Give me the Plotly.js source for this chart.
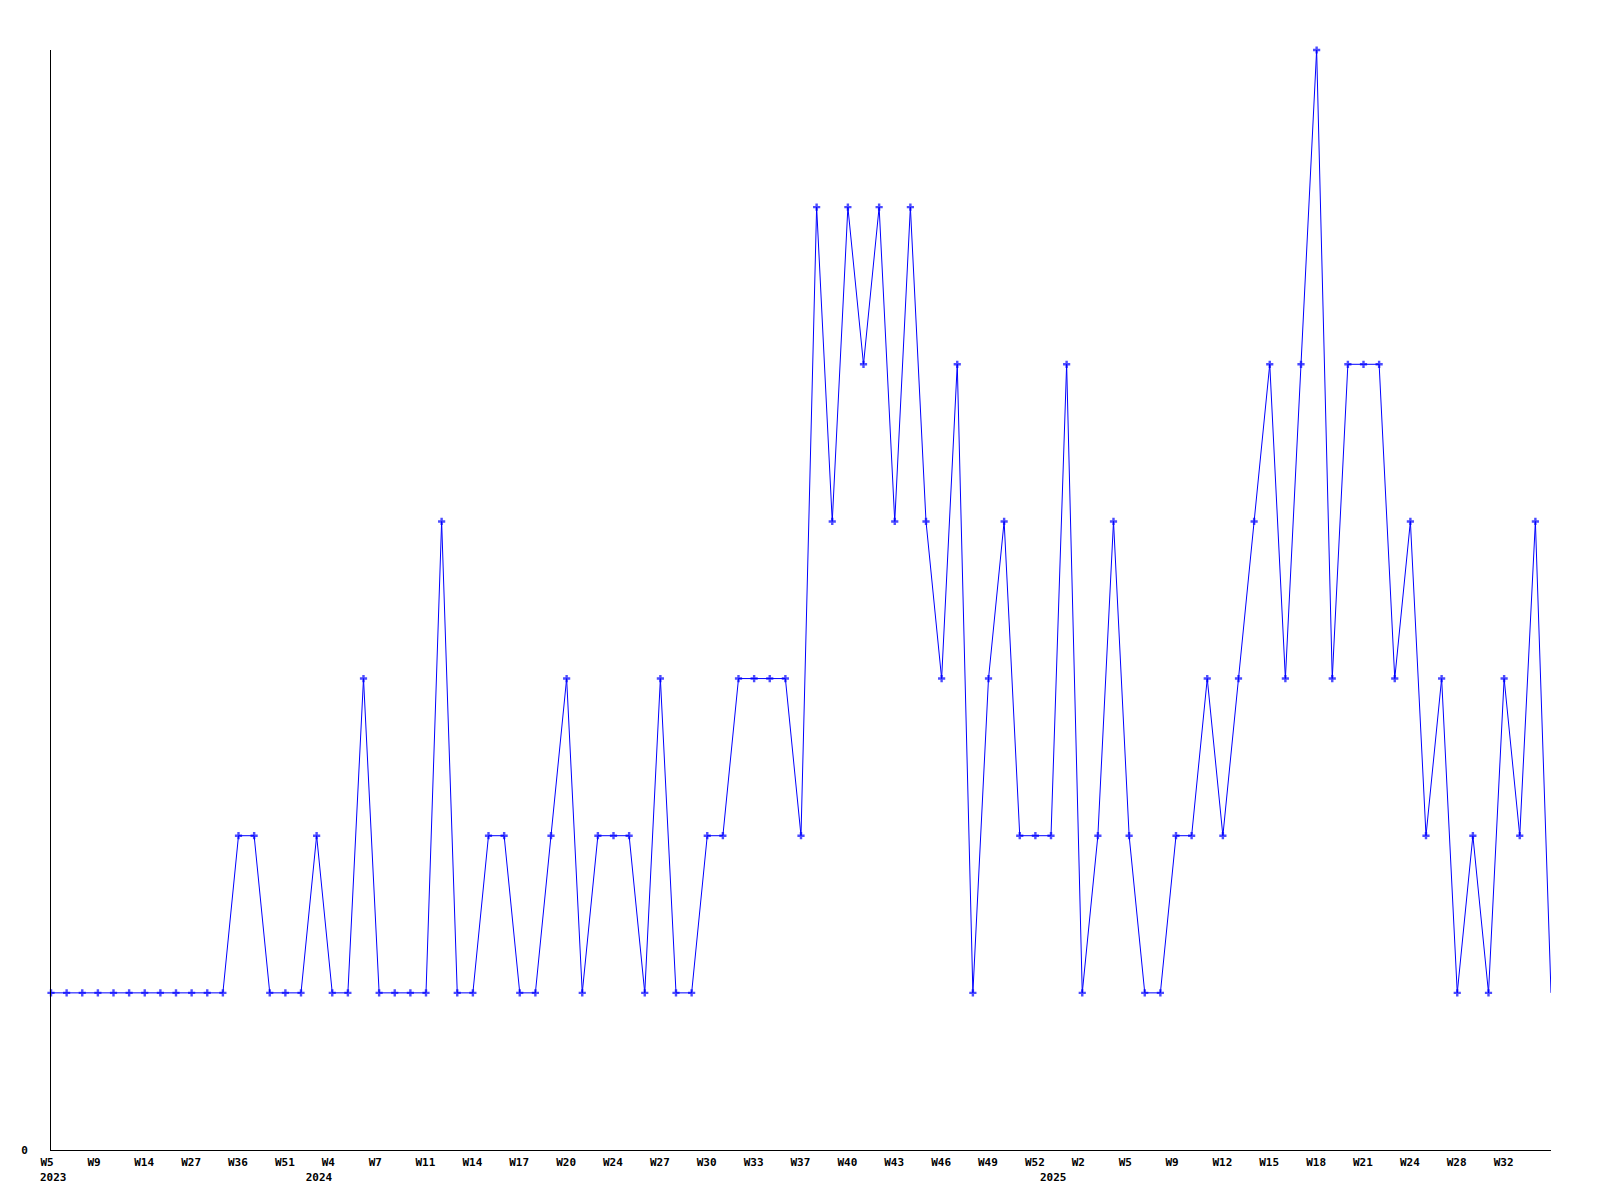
<!DOCTYPE html>
<html>
<head>
<meta charset="utf-8">
<script src="https://cdn.plot.ly/plotly-3.0.1.min.js"></script>
<style>html,body{margin:0;padding:0;background:#fff;}#chart{width:1600px;height:1200px;}</style>
</head>
<body>
<div id="chart"></div>
<script>
// Weekly values, one per data point (97 points)
const values = [
  1,1,1,1,1,1,1,1,1,1,1,1,
  2,2,1,1,1,2,1,1,3,1,1,1,1,4,1,1,2,2,1,1,2,3,1,2,2,2,1,3,1,1,
  2,2,3,3,3,3,2,6,4,6,5,6,4,6,4,3,5,1,3,4,2,2,2,5,1,
  2,4,2,1,1,2,2,3,2,3,4,5,3,5,7,3,5,5,5,3,4,2,3,1,2,1,3,2,4,1
];
// Week tick labels, shown on every third point
const weekTicks = ["W5","W9","W14","W27","W36","W51","W4","W7","W11","W14","W17","W20","W24","W27","W30","W33",
                   "W37","W40","W43","W46","W49","W52","W2","W5","W9","W12","W15","W18","W21","W24","W28","W32"];
const tickStep = 3;
// Year labels and the index of the first point of each year
const yearLabels = ["2023", "2024", "2025"];
const yearStartIdx = [0, 17, 64];

const xs = values.map((v, i) => i);
const tickvals = weekTicks.map((w, k) => k * tickStep);
const markerSizes = values.map((v, i) => i === values.length - 1 ? 0 : 6);

const font = {family: "DejaVu Sans Mono", size: 11, color: "#000", weight: "bold"};
const xr = [0, values.length - 1];

Plotly.newPlot("chart", [{
  x: xs, y: values, type: "scatter", mode: "lines+markers",
  line: {color: "#0000ff", width: 1},
  marker: {symbol: "cross", size: markerSizes, color: "#0000ff", line: {width: 0}},
  cliponaxis: false, hoverinfo: "skip"
}, {
  x: yearStartIdx, y: yearStartIdx.map(() => null), xaxis: "x2", yaxis: "y",
  type: "scatter", mode: "markers", showlegend: false, hoverinfo: "skip"
}], {
  width: 1600, height: 1200,
  margin: {l: 51, r: 49, t: 50, b: 50, pad: 0},
  paper_bgcolor: "#fff", plot_bgcolor: "#fff",
  showlegend: false,
  font: font,
  xaxis: {
    range: xr, showgrid: false, zeroline: false,
    showline: true, linecolor: "#000", linewidth: 1,
    tickmode: "array", tickvals: tickvals, ticktext: weekTicks,
    ticks: "", tickfont: font, tickangle: 0,
    ticklabelposition: "outside right", ticklabelshift: -11, ticklabelstandoff: 2
  },
  xaxis2: {
    overlaying: "x", anchor: "y", side: "bottom",
    range: xr, showgrid: false, zeroline: false, showline: false,
    tickmode: "array", tickvals: yearStartIdx, ticktext: yearLabels,
    ticks: "", tickfont: font, tickangle: 0,
    ticklabelposition: "outside right", ticklabelshift: -11, ticklabelstandoff: 19
  },
  yaxis: {
    range: [0, 7], showgrid: false, zeroline: false,
    showline: true, linecolor: "#000", linewidth: 1,
    tickmode: "array", tickvals: [0], ticktext: ["0"],
    ticks: "", tickfont: font, ticklabelstandoff: 20
  }
}, {displayModeBar: false, staticPlot: true});
</script>
</body>
</html>
